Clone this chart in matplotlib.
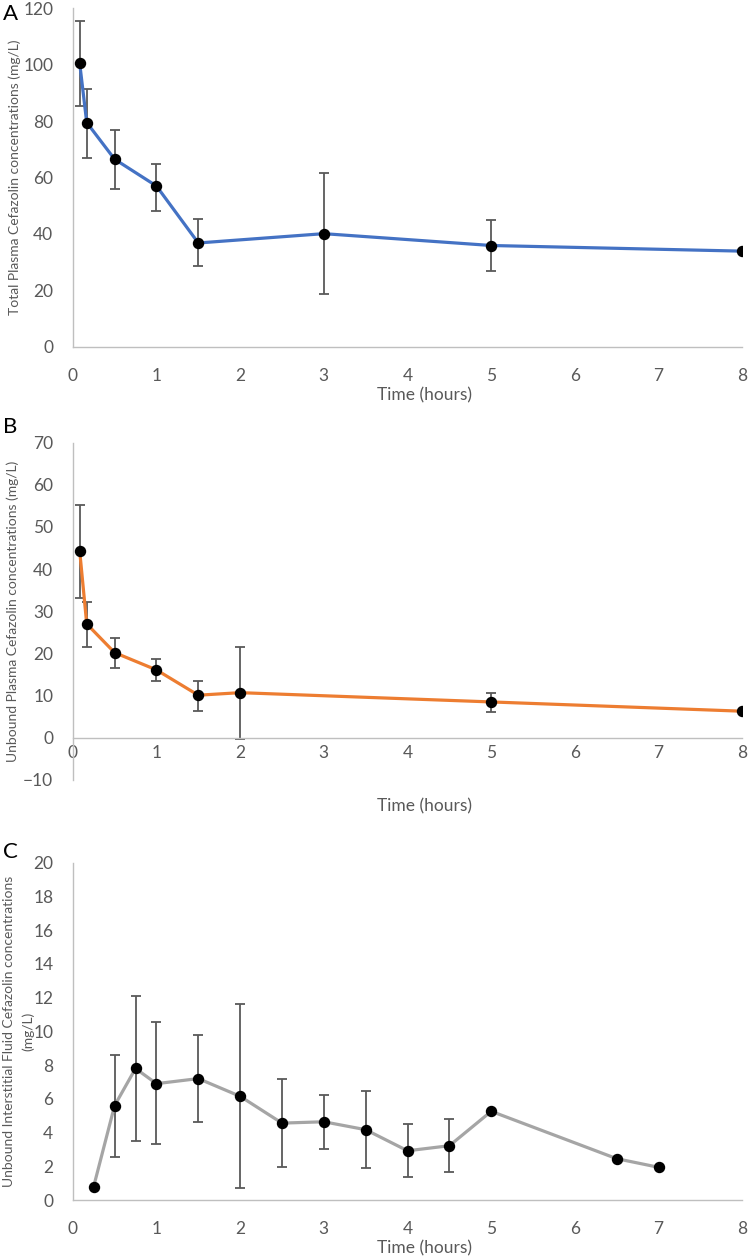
import matplotlib
matplotlib.use("Agg")
import matplotlib.pyplot as plt
import numpy as np

plt.rcParams['font.family'] = ['Lato', 'DejaVu Sans']

# Panel A - total plasma
timeA = [0.083, 0.167, 0.5, 1, 1.5, 3, 5, 8]
concA = [100.5, 79.5, 66.5, 57.0, 36.8, 40.1, 35.9, 33.9]
lowA = [85.3, 67.0, 55.8, 48.3, 28.5, 18.8, 27.0, np.nan]
highA = [115.4, 91.4, 76.9, 64.9, 45.2, 61.5, 44.8, np.nan]

# Panel B - unbound plasma
timeB = [0.083, 0.167, 0.5, 1, 1.5, 2, 5, 8]
concB = [44.3, 27.0, 20.2, 16.1, 10.1, 10.7, 8.5, 6.3]
lowB = [33.1, 21.6, 16.5, 13.4, 6.3, -0.3, 6.1, np.nan]
highB = [55.3, 32.3, 23.7, 18.6, 13.5, 21.6, 10.7, np.nan]

# Panel C - unbound interstitial fluid
timeC = [0.25, 0.5, 0.75, 1, 1.5, 2, 2.5, 3, 3.5, 4, 4.5, 5, 6.5, 7]
concC = [0.8, 5.6, 7.8, 6.9, 7.2, 6.15, 4.56, 4.64, 4.17, 2.92, 3.22, 5.26, 2.45, 1.94]
lowC = [np.nan, 2.55, 3.5, 3.3, 4.6, 0.71, 1.96, 3.04, 1.88, 1.35, 1.66, np.nan, np.nan, np.nan]
highC = [np.nan, 8.6, 12.1, 10.55, 9.76, 11.6, 7.17, 6.22, 6.44, 4.49, 4.78, np.nan, np.nan, np.nan]

TEXT = '#595959'
AXIS = '#BFBFBF'


def draw_panel(ax, t, c, lo, hi, color, ylim, yticks, ylabel, xpad, labelx):
    c = np.array(c)
    err = np.vstack([c - np.array(lo), np.array(hi) - c])
    ax.errorbar(t, c, yerr=err, fmt='none', ecolor='#595959', elinewidth=1.3,
                capsize=3.5, capthick=1.3, zorder=2)
    ax.plot(t, c, color=color, lw=2.3, zorder=3)
    ax.plot(t, c, 'o', color='black', ms=7.2, zorder=4)
    ax.set_xlim(0, 8)
    ax.set_ylim(*ylim)
    ax.set_xticks(range(0, 9))
    ax.set_yticks(yticks)
    for s in ['top', 'right']:
        ax.spines[s].set_visible(False)
    for s in ['left', 'bottom']:
        ax.spines[s].set_color(AXIS)
        ax.spines[s].set_linewidth(1.0)
    ax.spines['bottom'].set_position(('data', 0))
    ax.tick_params(length=0, labelsize=12.5, labelcolor=TEXT)
    ax.tick_params(axis='y', pad=14)
    ax.tick_params(axis='x', pad=xpad)
    ax.set_ylabel(ylabel, fontsize=10, color=TEXT, linespacing=1.6, va='center')
    ax.yaxis.set_label_coords(labelx, 0.5)


fig = plt.figure(figsize=(7.5, 12.6), dpi=100)

axA = fig.add_axes([0.0970, 0.7248, 0.8928, 0.2686])
draw_panel(axA, timeA, concA, lowA, highA, '#4472C4', (0, 120), range(0, 121, 20),
           'Total Plasma Cefazolin concentrations (mg/L)', 15, -0.086)
axA.text(0.526, -0.145, 'Time (hours)', transform=axA.transAxes, ha='center',
         va='center', fontsize=12.5, color=TEXT)

axB = fig.add_axes([0.0970, 0.3810, 0.8928, 0.2677])
draw_panel(axB, timeB, concB, lowB, highB, '#ED7D31', (-10, 70), range(-10, 71, 10),
           'Unbound Plasma Cefazolin concentrations (mg/L)', 5, -0.089)
axB.text(0.526, -0.078, 'Time (hours)', transform=axB.transAxes, ha='center',
         va='center', fontsize=12.5, color=TEXT)

axC = fig.add_axes([0.0970, 0.0476, 0.8928, 0.2677])
draw_panel(axC, timeC, concC, lowC, highC, '#A5A5A5', (0, 20), range(0, 21, 2),
           'Unbound Interstitial Fluid Cefazolin concentrations\n(mg/L)', 15, -0.081)
axC.text(0.526, -0.142, 'Time (hours)', transform=axC.transAxes, ha='center',
         va='center', fontsize=12.5, color=TEXT)

fig.text(3 / 750, 1 - 14 / 1260, 'A', fontsize=16, ha='left', va='center')
fig.text(3 / 750, 1 - 427 / 1260, 'B', fontsize=16, ha='left', va='center')
fig.text(3 / 750, 1 - 852 / 1260, 'C', fontsize=16, ha='left', va='center')

fig.savefig('out.png', dpi=100)
